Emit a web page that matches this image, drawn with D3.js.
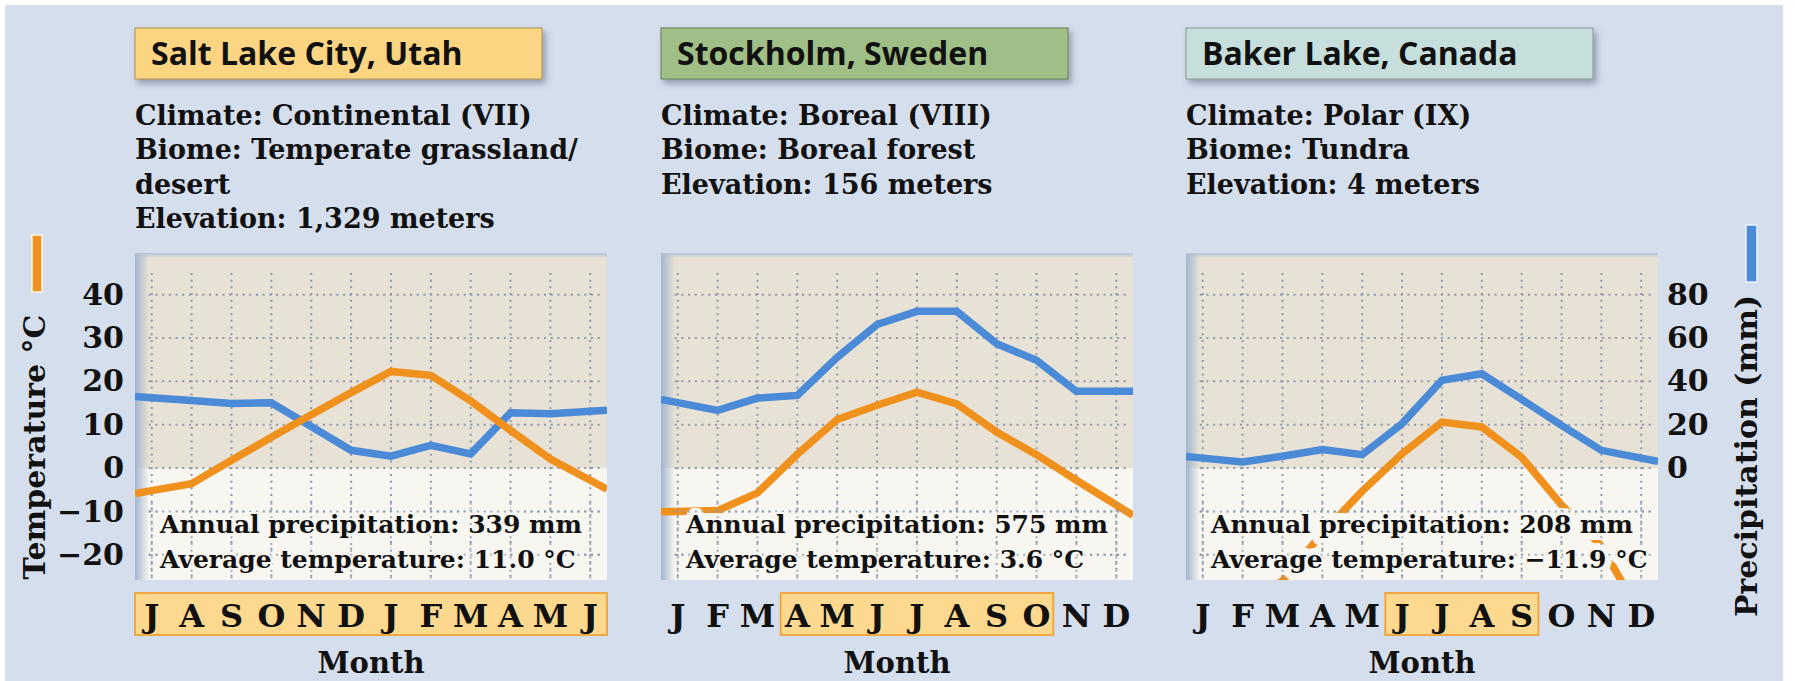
<!DOCTYPE html>
<html><head><meta charset="utf-8">
<script src="https://cdn.jsdelivr.net/npm/d3@7"></script>
<style>
html,body{margin:0;padding:0;background:#ffffff;}
svg{display:block;}
</style></head><body>
<svg id="chart" width="1795" height="681"></svg>
<script>
// ---------- DATA ----------
const cities = ["Salt Lake City, Utah", "Stockholm, Sweden", "Baker Lake, Canada"];
const climates = ["Climate: Continental (VII)", "Climate: Boreal (VIII)", "Climate: Polar (IX)"];
const biomes = [["Biome: Temperate grassland/", "desert"], ["Biome: Boreal forest"], ["Biome: Tundra"]];
const elevations = ["Elevation: 1,329 meters", "Elevation: 156 meters", "Elevation: 4 meters"];
const annualPrecip = ["Annual precipitation: 339 mm", "Annual precipitation: 575 mm", "Annual precipitation: 208 mm"];
const avgTemps = ["Average temperature: 11.0 \u00B0C", "Average temperature: 3.6 \u00B0C", "Average temperature: \u221211.9 \u00B0C"];

const monthsSaltLake = ["J","A","S","O","N","D","J","F","M","A","M","J"];
const monthsNorth = ["J","F","M","A","M","J","J","A","S","O","N","D"];

// temperature (°C) and precipitation (mm) per month
const tempSaltLake = [-5.2, -3.6, 1.8, 7.1, 12.3, 17.4, 22.3, 21.4, 15.5, 8.7, 2.1, -2.8];
const precipSaltLake = [32.5, 31.2, 29.8, 30.1, 19.2, 8.2, 5.5, 10.5, 6.6, 25.5, 25.1, 26.2];
const tempStockholm = [-10.0, -9.8, -5.7, 3.2, 11.2, 14.5, 17.5, 14.8, 8.3, 3.1, -2.8, -8.5];
const precipStockholm = [30.2, 26.6, 32.3, 33.5, 51.1, 66.2, 72.3, 72.3, 57.4, 49.7, 35.4, 35.4];
const tempBakerLake = [-33, -32, -26, -15, -5.3, 3.3, 10.6, 9.5, 2.5, -8.5, -18, -34];
const precipBakerLake = [4.6, 2.8, 5.5, 8.6, 6.2, 20.5, 40.5, 43.5, 31.7, 19.7, 8.2, 4.6];

// growing-season highlight on the month axis (first and last month index)
const seasonStart = [0, 3, 5];
const seasonEnd = [11, 9, 8];

const tempTicks = [-20, -10, 0, 10, 20, 30, 40];
const precipTicks = [0, 20, 40, 60, 80];

const panels = [
  {months: monthsSaltLake, temp: tempSaltLake, precip: precipSaltLake, color: "#fcd582"},
  {months: monthsNorth, temp: tempStockholm, precip: precipStockholm, color: "#9fbf86"},
  {months: monthsNorth, temp: tempBakerLake, precip: precipBakerLake, color: "#c7dfdc"}
];

// ---------- LAYOUT ----------
const W = 1795, H = 681;
const plotLefts = [135, 661, 1186];
const plotW = 472, plotTop = 253, plotBottom = 580;
const ORANGE = "#f0911d", BLUE = "#4b8ad6";
const serif = "'DejaVu Serif', serif";

const svg = d3.select("#chart");
const defs = svg.append("defs");

const shadow = defs.append("filter").attr("id", "boxShadow").attr("x", "-10%").attr("y", "-30%").attr("width", "130%").attr("height", "180%");
shadow.append("feDropShadow").attr("dx", 3).attr("dy", 4).attr("stdDeviation", 3)
  .attr("flood-color", "#56657e").attr("flood-opacity", 0.55);

const lg = defs.append("linearGradient").attr("id", "leftShade").attr("x1", 0).attr("x2", 1).attr("y1", 0).attr("y2", 0);
lg.append("stop").attr("offset", 0).attr("stop-color", "#a3b5cf").attr("stop-opacity", 1);
lg.append("stop").attr("offset", 1).attr("stop-color", "#a3b5cf").attr("stop-opacity", 0);
const tg = defs.append("linearGradient").attr("id", "topShade").attr("x1", 0).attr("x2", 0).attr("y1", 0).attr("y2", 1);
tg.append("stop").attr("offset", 0).attr("stop-color", "#b4c2d6").attr("stop-opacity", 1);
tg.append("stop").attr("offset", 1).attr("stop-color", "#b4c2d6").attr("stop-opacity", 0);

// page background
svg.append("rect").attr("x", 5).attr("y", 5).attr("width", 1778).attr("height", H - 5).attr("fill", "#d5deec");

const yTemp = d3.scaleLinear().domain([-25.8, 49.6]).range([plotBottom, plotTop]);
const yPrecip = d3.scaleLinear().domain([-51.6, 99.2]).range([plotBottom, plotTop]);

panels.forEach((p, k) => {
  const left = plotLefts[k];
  const g = svg.append("g");
  const x = d3.scalePoint().domain(d3.range(12)).range([left, left + plotW]).padding(0.42);
  const step = x.step();
  const xi = d3.scaleLinear().domain([0, 11]).range([x(0), x(11)]);

  // title box
  g.append("rect").attr("x", left).attr("y", 28).attr("width", 407).attr("height", 51)
    .attr("fill", p.color).attr("stroke", d3.color(p.color).darker(0.9)).attr("stroke-width", 1.2)
    .attr("filter", "url(#boxShadow)");
  g.append("text").attr("x", left + 16).attr("y", 65).text(cities[k])
    .attr("font-family", "'Open Sans', sans-serif").attr("font-weight", 700).attr("font-size", 32).attr("fill", "#111");

  // info lines
  const info = [climates[k], ...biomes[k], elevations[k]];
  g.selectAll("text.info").data(info).join("text").attr("class", "info")
    .attr("x", left).attr("y", (d, i) => 125 + i * 34.3).text(d => d)
    .attr("font-family", serif).attr("font-weight", 700).attr("font-size", 27).attr("fill", "#111");

  // plot background
  g.append("rect").attr("x", left).attr("y", plotTop).attr("width", plotW).attr("height", plotBottom - plotTop).attr("fill", "#f7f6f1");
  g.append("rect").attr("x", left).attr("y", plotTop).attr("width", plotW).attr("height", yTemp(0) - plotTop).attr("fill", "#e7e2d5");
  g.append("rect").attr("x", left).attr("y", plotTop).attr("width", 14).attr("height", plotBottom - plotTop).attr("fill", "url(#leftShade)");
  g.append("rect").attr("x", left).attr("y", plotTop).attr("width", plotW).attr("height", 5).attr("fill", "url(#topShade)");

  // dotted grid
  const grid = g.append("g").attr("stroke", "#8d98ab").attr("stroke-width", 2).attr("stroke-dasharray", "2 4.7");
  grid.selectAll("line.v").data(d3.range(12)).join("line").attr("class", "v")
    .attr("x1", i => x(i)).attr("x2", i => x(i)).attr("y1", yTemp(45)).attr("y2", plotBottom);
  grid.selectAll("line.h").data(tempTicks).join("line").attr("class", "h")
    .attr("x1", x(0) - 3).attr("x2", x(11) + 10).attr("y1", d => yTemp(d)).attr("y2", d => yTemp(d));

  // lines (extended to plot edges)
  const pad = (x(0) - left) / step;
  const extend = vals => {
    const n = vals.length;
    const pts = vals.map((v, i) => ({i, v}));
    pts.unshift({i: -pad, v: vals[0] - (vals[1] - vals[0]) * pad});
    pts.push({i: n - 1 + pad, v: vals[n - 1] + (vals[n - 1] - vals[n - 2]) * pad});
    return pts;
  };
  const clipId = "clip" + k;
  defs.append("clipPath").attr("id", clipId).append("rect")
    .attr("x", left).attr("y", plotTop).attr("width", plotW).attr("height", plotBottom - plotTop);
  const lines = g.append("g").attr("clip-path", `url(#${clipId})`);
  lines.append("path").datum(extend(p.precip))
    .attr("d", d3.line().x(d => xi(d.i)).y(d => yPrecip(d.v)))
    .attr("fill", "none").attr("stroke", BLUE).attr("stroke-width", 7.5).attr("stroke-linejoin", "miter");
  lines.append("path").datum(extend(p.temp))
    .attr("d", d3.line().x(d => xi(d.i)).y(d => yTemp(d.v)))
    .attr("fill", "none").attr("stroke", ORANGE).attr("stroke-width", 7.5).attr("stroke-linejoin", "miter");

  // annotations: halo layer hides the lines, grid dots stay visible on top, then text
  const notes = [annualPrecip[k], avgTemps[k]];
  const noteAttrs = sel => sel.attr("x", left + 25).attr("y", (d, i) => 533 + i * 35).text(d => d)
    .attr("font-family", serif).attr("font-weight", 700).attr("font-size", 25);
  g.append("g").selectAll("text").data(notes).join("text").call(noteAttrs)
    .attr("fill", "#f7f6f1").attr("stroke", "#f7f6f1").attr("stroke-width", 14).attr("stroke-linejoin", "round");
  const grid2 = g.append("g").attr("stroke", "#8d98ab").attr("stroke-width", 2).attr("stroke-dasharray", "2 4.7")
    .attr("opacity", 0.8);
  grid2.selectAll("line.v").data(d3.range(12)).join("line").attr("class", "v")
    .attr("x1", i => x(i)).attr("x2", i => x(i)).attr("y1", yTemp(-8)).attr("y2", plotBottom);
  grid2.selectAll("line.h").data(tempTicks.filter(t => t < -5)).join("line").attr("class", "h")
    .attr("x1", x(0) - 3).attr("x2", x(11) + 10).attr("y1", d => yTemp(d)).attr("y2", d => yTemp(d));
  g.append("g").selectAll("text").data(notes).join("text").call(noteAttrs)
    .attr("fill", "#111").attr("stroke", "#f7f6f1").attr("stroke-width", 4).attr("stroke-linejoin", "round").attr("paint-order", "stroke");

  // month axis
  g.append("rect").attr("x", x(seasonStart[k]) - 0.42 * step).attr("y", 593)
    .attr("width", x(seasonEnd[k]) - x(seasonStart[k]) + 0.84 * step).attr("height", 42)
    .attr("fill", "#fcd98f").attr("stroke", "#f0a237").attr("stroke-width", 1.8);
  g.selectAll("text.month").data(p.months).join("text").attr("class", "month")
    .attr("x", (d, i) => x(i)).attr("y", 627).attr("text-anchor", "middle").text(d => d)
    .attr("font-family", serif).attr("font-weight", 700).attr("font-size", 32).attr("fill", "#111");
  g.append("text").attr("x", left + plotW / 2).attr("y", 673).attr("text-anchor", "middle").text("Month")
    .attr("font-family", serif).attr("font-weight", 700).attr("font-size", 29).attr("fill", "#111");
});

// left temperature axis
const tempAxis = d3.axisLeft(yTemp).tickValues(tempTicks).tickSize(0).tickPadding(0)
  .tickFormat(d => d < 0 ? "\u2212" + Math.abs(d) : d);
const ta = svg.append("g").attr("transform", "translate(124,0)").call(tempAxis);
ta.select(".domain").remove();
ta.selectAll("text").attr("font-family", serif).attr("font-weight", 700).attr("font-size", 30).attr("fill", "#111");

// right precipitation axis
const precipAxis = d3.axisRight(yPrecip).tickValues(precipTicks).tickSize(0).tickPadding(0);
const pa = svg.append("g").attr("transform", "translate(1667,0)").call(precipAxis);
pa.select(".domain").remove();
pa.selectAll("text").attr("font-family", serif).attr("font-weight", 700).attr("font-size", 30).attr("fill", "#111");

// axis titles and legend bars
svg.append("rect").attr("x", 32).attr("y", 235).attr("width", 10).attr("height", 57)
  .attr("fill", ORANGE).attr("stroke", "#fdf6ea").attr("stroke-width", 1.5);
svg.append("text").attr("transform", "translate(45,447) rotate(-90)").attr("text-anchor", "middle")
  .text("Temperature \u00B0C").attr("font-family", serif).attr("font-weight", 700).attr("font-size", 30).attr("fill", "#111");

svg.append("rect").attr("x", 1746).attr("y", 225).attr("width", 11).attr("height", 57)
  .attr("fill", BLUE).attr("stroke", "#eef3fa").attr("stroke-width", 1.5);
svg.append("text").attr("transform", "translate(1757,456) rotate(-90)").attr("text-anchor", "middle")
  .text("Precipitation (mm)").attr("font-family", serif).attr("font-weight", 700).attr("font-size", 30).attr("fill", "#111");
</script>
</body></html>
